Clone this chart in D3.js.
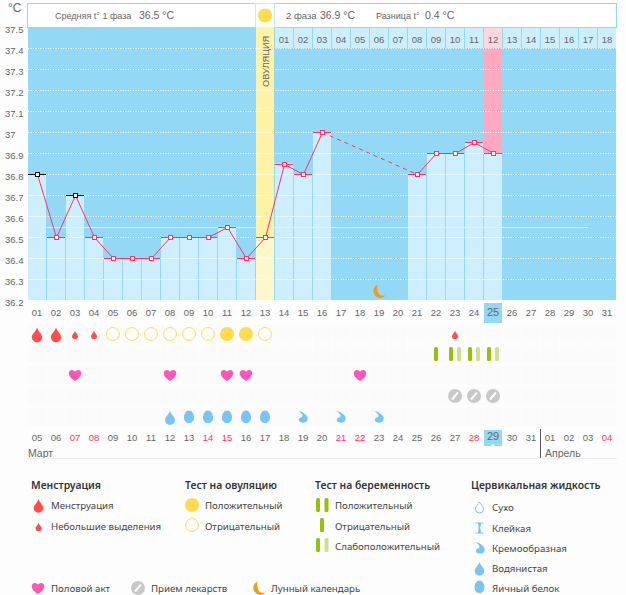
<!DOCTYPE html>
<html>
<head>
<meta charset="utf-8">
<script src="https://cdn.jsdelivr.net/npm/d3@7"></script>
<style>
html, body { margin: 0; padding: 0; background: #fdfdfd; overflow: hidden; }
text { font-family: "Liberation Sans", sans-serif; }
.legend text { font-family: "Noto Sans", sans-serif; }
</style>
</head>
<body>
<div id="canvas"></div>
<script>
// Data
var days = d3.range(1, 32);
var tempTicks = [37.5, 37.4, 37.3, 37.2, 37.1, 37, 36.9, 36.8, 36.7, 36.6, 36.5, 36.4, 36.3, 36.2];
var temps = [36.8, 36.5, 36.7, 36.5, 36.4, 36.4, 36.4, 36.5, 36.5, 36.5, 36.55, 36.4, 36.5, 36.85, 36.8, 37,
  null, null, null, null, 36.8, 36.9, 36.9, 36.95, 36.9, null, null, null, null, null, null];
var excluded = [1, 3];
var meanTemp = 36.545;
var meanFrom = 2, meanTo = 30;
var ovulationDay = 13;
var pinkDay = 25;
var todayDay = 25;
var phase2Start = 14;
var phase2Labels = ["01","02","03","04","05","06","07","08","09","10","11","12","13","14","15","16","17","18"];
var dates = ["05","06","07","08","09","10","11","12","13","14","15","16","17","18","19","20","21","22","23","24","25","26","27","28","29","30","31","01","02","03","04"];
var redDates = [3, 4, 10, 11, 17, 18, 24, 31];
var bleedBig = [1, 2];
var bleedSmall = [3, 4, 23];
var ovuNeg = [5, 6, 7, 8, 9, 10, 13];
var ovuPos = [11, 12];
var pregNeg = [22];
var pregWeak = [23, 24, 25];
var sex = [3, 8, 11, 12, 18];
var meds = [23, 24, 25];
var fluidWater = [8];
var fluidEgg = [9, 10, 11, 12, 13];
var fluidCream = [15, 17, 19];
var moonDay = 19;

var w = 626, h = 595;
var svg = d3.select("#canvas").append("svg").attr("width", w).attr("height", h).style("display", "block");
var x = d3.scaleBand().domain(days).range([28, 617]);
var y = d3.scaleLinear().domain([36.2, 37.5]).range([300, 27]);
var blue = "#93d9f5", light = "#cdeefd", red = "#ff3366", grey = "#666";
var cellW = x.bandwidth() - 1;
function cx(d) { return x(d) + cellW / 2; }

// Header
svg.append("rect").attr("x", 27.5).attr("y", 3.5).attr("width", 589).attr("height", 24).attr("fill", "#fff").attr("stroke", blue);
svg.append("rect").attr("x", x(ovulationDay) - 0.5).attr("y", 3.5).attr("width", 19).attr("height", 24).attr("fill", "#fff").attr("stroke", "#c9ebf8");
svg.append("circle").attr("cx", cx(ovulationDay)).attr("cy", 15.5).attr("r", 7).attr("fill", "#ffdb4d");

function label(sel, px, py, txt, size, col, anchor) {
  return sel.append("text").attr("x", px).attr("y", py).attr("font-size", size).attr("fill", col || grey)
    .attr("text-anchor", anchor || "start").text(txt);
}
label(svg, 55, 19, "Средняя t° 1 фаза", 9);
label(svg, 139, 19, "36.5 °C", 10.5);
label(svg, 286, 19, "2 фаза", 9.5);
label(svg, 320, 19, "36.9 °C", 10.5);
label(svg, 376, 19, "Разница t°", 9);
label(svg, 425, 19, "0.4 °C", 10.5);
label(svg, 8, 12, "°C", 12);

// Plot background
svg.append("rect").attr("x", 28).attr("y", 27).attr("width", 589 - 1).attr("height", 273).attr("fill", blue);

// Ovulation column
svg.append("rect").attr("x", x(ovulationDay)).attr("y", 27).attr("width", cellW).attr("height", 273).attr("fill", "#fdf2a6");

// Phase 2 cells
phase2Labels.forEach(function (t, i) {
  var d = phase2Start + i;
  svg.append("rect").attr("x", x(d)).attr("y", 28).attr("width", cellW).attr("height", 20)
    .attr("fill", d == pinkDay ? "#fcd7e0" : light);
  label(svg, cx(d), 43, t, 9.5, grey, "middle");
});

// Pink day column
svg.append("rect").attr("x", x(pinkDay)).attr("y", 48).attr("width", cellW).attr("height", y(36.9) - 48).attr("fill", "#ffa9c1");

// Grid
svg.append("g").selectAll("line").data(tempTicks.filter(function (t) { return t < 37.5 && t > 36.2; })).join("line")
  .attr("x1", 28).attr("x2", 616)
  .attr("y1", function (t) { return Math.round(y(t)) + 0.5; }).attr("y2", function (t) { return Math.round(y(t)) + 0.5; })
  .attr("stroke", "#fff").attr("stroke-dasharray", "1,1.5");

// Bars
var barDays = days.filter(function (d) { return temps[d - 1] != null; });
svg.append("g").selectAll("rect").data(barDays).join("rect")
  .attr("x", function (d) { return x(d); })
  .attr("y", function (d) { return y(temps[d - 1]); })
  .attr("width", cellW)
  .attr("height", function (d) { return 300 - y(temps[d - 1]); })
  .attr("fill", function (d) { return d == ovulationDay ? "#fef7c9" : light; });

// White grid over bars
barDays.forEach(function (d) {
  tempTicks.forEach(function (t) {
    if (t < temps[d - 1] && t > 36.2) {
      svg.append("line").attr("x1", x(d)).attr("x2", x(d) + cellW)
        .attr("y1", Math.round(y(t)) + 0.5).attr("y2", Math.round(y(t)) + 0.5)
        .attr("stroke", "#fff").attr("stroke-opacity", 0.5);
    }
  });
});

// Ovulation text
svg.append("text").attr("transform", "translate(" + (cx(ovulationDay) + 3.5) + ",87) rotate(-90)")
  .attr("font-size", 9.2).attr("fill", grey).text("ОВУЛЯЦИЯ");

// Mean line
svg.append("line").attr("x1", x(meanFrom)).attr("x2", cx(meanTo))
  .attr("y1", y(meanTemp)).attr("y2", y(meanTemp)).attr("stroke", "#f6f3b0").attr("stroke-width", 1);

// Temperature line
var line = d3.line().x(function (d) { return cx(d) + 0.5; }).y(function (d) { return Math.round(y(temps[d - 1])) + 0.5; });
svg.append("path").attr("d", line(days.filter(function (d) { return d <= 16; })))
  .attr("fill", "none").attr("stroke", red);
svg.append("path").attr("d", line([16, 21])).attr("fill", "none").attr("stroke", red).attr("stroke-dasharray", "4,4");
svg.append("path").attr("d", line([21, 22, 23, 24, 25])).attr("fill", "none").attr("stroke", red);

// Ticks and points
barDays.forEach(function (d) {
  var col = excluded.indexOf(d) >= 0 ? "#000" : red;
  var py = Math.round(y(temps[d - 1])) + 0.5;
  svg.append("line").attr("x1", x(d)).attr("x2", x(d) + cellW).attr("y1", py).attr("y2", py).attr("stroke", col);
  svg.append("rect").attr("x", cx(d) - 1.5).attr("y", py - 2).attr("width", 4).attr("height", 4)
    .attr("fill", "#fff").attr("stroke", col);
});

// Y axis
var yAxis = svg.append("g")
  .call(d3.axisLeft(y).tickValues(tempTicks).tickFormat(function (t) { return String(t); }).tickSize(0));
yAxis.select(".domain").remove();
yAxis.selectAll("text").attr("x", 5).attr("dy", "0.55em").attr("text-anchor", "start")
  .attr("font-size", 9.5).attr("fill", grey).style("font-family", '"Liberation Sans", sans-serif');

// Day row
svg.append("rect").attr("x", x(todayDay)).attr("y", 303).attr("width", cellW).attr("height", 20).attr("fill", blue);
days.forEach(function (d) {
  label(svg, cx(d), 316, (d < 10 ? "0" : "") + d, d == todayDay ? 11 : 9.5, grey, "middle");
});

// Icon rows
[334, 354, 375, 396, 417].forEach(function (ry) {
  days.forEach(function (d) {
    svg.append("rect").attr("x", x(d)).attr("y", ry - 9).attr("width", cellW).attr("height", 18).attr("fill", "#fbfbfb");
  });
});
var rowY = { bleed: 334, preg: 354, sex: 375, meds: 396, fluid: 417 };

// Icons
function drop(g, px, py, s, col) {
  g.append("path").attr("fill", col)
    .attr("d", "M" + px + "," + (py - s * 1.45) + "C" + (px + s * 0.25) + "," + (py - s * 0.6) + " " + (px + s) + "," + (py - s * 0.2) + " " + (px + s) + "," + (py + s * 0.4)
      + "A" + s + "," + s + " 0 0 1 " + (px - s) + "," + (py + s * 0.4)
      + "C" + (px - s) + "," + (py - s * 0.2) + " " + (px - s * 0.25) + "," + (py - s * 0.6) + " " + px + "," + (py - s * 1.45) + "Z");
}
function heart(g, px, py, col) {
  g.append("path").attr("fill", col).attr("transform", "translate(" + px + "," + py + ")")
    .attr("d", "M0,6C-3,4 -6.2,1.5 -6.2,-1.8C-6.2,-4 -4.6,-5 -3.2,-5C-1.8,-5 -0.6,-4.2 0,-3.2C0.6,-4.2 1.8,-5 3.2,-5C4.6,-5 6.2,-4 6.2,-1.8C6.2,1.5 3,4 0,6Z");
}
function pill(g, px, py) {
  g.append("circle").attr("cx", px).attr("cy", py).attr("r", 7).attr("fill", "#c8c8c8");
  g.append("line").attr("x1", px - 3).attr("y1", py + 3.5).attr("x2", px + 3).attr("y2", py - 3.5)
    .attr("stroke", "#fff").attr("stroke-width", 2);
}
function moon(g, px, py) {
  g.append("path").attr("fill", "#f59a14").attr("transform", "translate(" + px + "," + py + ")")
    .attr("d", "M-1.5,-6.5A7,7 0 1 0 7,4A6,6 0 0 1 2,4.5C-1,3.5 -2.5,-2 -1.5,-6.5Z");
}
function cream(g, px, py) {
  g.append("path").attr("fill", "#79c4f2").attr("transform", "translate(" + px + "," + py + ")")
    .attr("d", "M-4.5,-6C-1,-6 1,-3.5 3,-2C5,-0.5 5.2,2 4,4C2.5,6 -1.5,6.2 -3.5,4.5C-4.5,3.5 -4.5,1.5 -3,0.8C-1.5,0.3 -0.5,0 -0.5,-1.5C-0.8,-3.5 -3,-4.5 -4.5,-6Z");
}
function egg(g, px, py) {
  g.append("path").attr("fill", "#79c4f2").attr("transform", "translate(" + px + "," + py + ")")
    .attr("d", "M0,-6.5C3,-6.5 5,-3 5,0.5C5,4 3,6 0,6C-3,6 -5,4 -5,0.5C-5,-3 -3,-6.5 0,-6.5Z");
}
function bar(g, px, py, col) {
  g.append("rect").attr("x", px - 2).attr("y", py - 7).attr("width", 4).attr("height", 14).attr("rx", 1.5).attr("fill", col);
}
function circleIcon(g, px, py, filled) {
  g.append("circle").attr("cx", px).attr("cy", py).attr("r", filled ? 7 : 6.4)
    .attr("fill", filled ? "#ffdb4d" : "#fff").attr("stroke", filled ? "none" : "#ffdb4d");
}

bleedBig.forEach(function (d) { drop(svg, cx(d), rowY.bleed + 1, 5.2, "#ff4d4d"); });
bleedSmall.forEach(function (d) { drop(svg, cx(d), rowY.bleed + 1, 3, "#ff4d4d"); });
ovuNeg.forEach(function (d) { circleIcon(svg, cx(d), rowY.bleed, false); });
ovuPos.forEach(function (d) { circleIcon(svg, cx(d), rowY.bleed, true); });
pregNeg.forEach(function (d) { bar(svg, cx(d), rowY.preg, "#99bf0d"); });
pregWeak.forEach(function (d) {
  bar(svg, cx(d) - 4, rowY.preg, "#99bf0d");
  bar(svg, cx(d) + 4, rowY.preg, "#cfdf8f");
});
sex.forEach(function (d) { heart(svg, cx(d), rowY.sex, "#ff55b8"); });
meds.forEach(function (d) { pill(svg, cx(d), rowY.meds); });
fluidWater.forEach(function (d) { drop(svg, cx(d), rowY.fluid + 1, 5, "#79c4f2"); });
fluidEgg.forEach(function (d) { egg(svg, cx(d), rowY.fluid); });
fluidCream.forEach(function (d) { cream(svg, cx(d), rowY.fluid); });
moon(svg, cx(moonDay), 291);

// Date row
svg.append("rect").attr("x", x(todayDay)).attr("y", 430).attr("width", cellW).attr("height", 16).attr("fill", blue);
svg.append("path").attr("fill", "#fff").attr("d", d3.line()([[cx(todayDay) - 2, 446], [cx(todayDay), 444], [cx(todayDay) + 2, 446]]));
dates.forEach(function (t, i) {
  label(svg, cx(i + 1), i + 1 == todayDay ? 440 : 441, t, i + 1 == todayDay ? 11 : 9.5, redDates.indexOf(i + 1) >= 0 ? red : grey, "middle");
});
label(svg, 28, 457, "Март", 10.5);
label(svg, 545, 457, "Апрель", 10.5);
svg.append("line").attr("x1", 540.5).attr("x2", 540.5).attr("y1", 429).attr("y2", 458).attr("stroke", "#555");
svg.append("line").attr("x1", 27).attr("x2", 617).attr("y1", 458.5).attr("y2", 458.5).attr("stroke", "#eee");

// Legend
var lg = svg.append("g").attr("class", "legend");
function title(px, py, t) { lg.append("text").attr("x", px).attr("y", py).attr("font-size", 10.4).attr("font-weight", 600).attr("fill", "#333").text(t); }
function item(px, py, t) { lg.append("text").attr("x", px).attr("y", py + 3.5).attr("font-size", 9.7).attr("fill", "#444").text(t); }

title(31, 489, "Менструация");
drop(lg, 38.5, 506, 4.8, "#ff4d4d"); item(51, 505, "Менструация");
drop(lg, 38.5, 527, 3, "#ff4d4d"); item(51, 526, "Небольшие выделения");

title(185, 489, "Тест на овуляцию");
circleIcon(lg, 192, 505, true); item(205, 505, "Положительный");
circleIcon(lg, 192, 525, false); item(205, 526, "Отрицательный");

title(315, 489, "Тест на беременность");
bar(lg, 318, 505, "#99bf0d"); bar(lg, 326.5, 505, "#99bf0d"); item(335, 505, "Положительный");
bar(lg, 322, 525, "#99bf0d"); item(335, 526, "Отрицательный");
bar(lg, 318, 545, "#99bf0d"); bar(lg, 326.5, 545, "#cfdf8f"); item(335, 546, "Слабоположительный");

title(471, 489, "Цервикальная жидкость");
lg.append("path").attr("fill", "#fff").attr("stroke", "#79c4f2").attr("transform", "translate(479.5,508)")
  .attr("d", "M0,-6C1,-4 4,-2 4,1A4,4 0 0 1 -4,1C-4,-2 -1,-4 0,-6Z");
item(492, 507, "Сухо");
lg.append("path").attr("fill", "#79c4f2").attr("transform", "translate(479.5,528)")
  .attr("d", "M-4,-5.5H4V-4.5H1.5L0.8,0L1.5,4.5H4V5.5H-4V4.5H-1.5L-0.8,0L-1.5,-4.5H-4Z");
item(492, 528, "Клейкая");
cream(lg, 480, 548); item(492, 548, "Кремообразная");
drop(lg, 479.5, 569, 4.8, "#79c4f2"); item(492, 568, "Водянистая");
egg(lg, 479.5, 587); item(492, 588, "Яичный белок");

heart(lg, 38, 588, "#ff55b8"); item(51, 588, "Половой акт");
pill(lg, 138, 588); item(151, 588, "Прием лекарств");
moon(lg, 259, 588); item(271, 588, "Лунный календарь");
</script>
</body>
</html>
